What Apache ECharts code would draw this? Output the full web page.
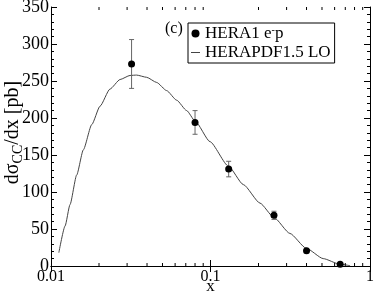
<!DOCTYPE html>
<html>
<head>
<meta charset="utf-8">
<script src="https://cdn.jsdelivr.net/npm/echarts@6/dist/echarts.min.js"></script>
<style>html,body{margin:0;padding:0;background:#fff}#c{width:374px;height:293px}</style>
</head>
<body>
<div id="c"></div>
<script>
// Data points (HERA1 e-p)
var dataX = [0.032, 0.080, 0.13, 0.25, 0.40, 0.65];
var dataY = [273, 194, 131, 68.5, 20.5, 2.5];
var dataErr = [33, 16, 10.5, 5.5, 2, 1];
// Theory curve (HERAPDF1.5 LO)
var curveX = [0.0112, 0.01225, 0.01316, 0.01449, 0.01595, 0.0180, 0.0203, 0.0234, 0.0271, 0.0313, 0.0344, 0.0398, 0.0460, 0.0531, 0.0614, 0.0709, 0.0800, 0.0993, 0.1294, 0.1607, 0.2043, 0.2489, 0.3148, 0.3982, 0.5089, 0.6453, 0.750];
var curveY = [18, 54, 83, 123, 157, 191, 216, 239, 252, 257.5, 258, 255, 248, 237, 224, 210, 196, 168, 135, 110, 85, 66, 44, 24, 10, 2.5, 0.4];
// Axis ticks
var xMajorTicks = [0.01, 0.1, 1];
var xMinorTicks = [0.02, 0.03, 0.04, 0.05, 0.06, 0.07, 0.08, 0.09, 0.2, 0.3, 0.4, 0.5, 0.6, 0.7, 0.8, 0.9];
var yMin = 0, yMax = 350, yInterval = 50;

var FONT = "'Liberation Serif','Times New Roman',serif";
var chart = echarts.init(document.getElementById('c'));

var pts = dataX.map(function (x, i) { return [x, dataY[i]]; });
var errs = dataX.map(function (x, i) { return [x, dataY[i] - dataErr[i], dataY[i] + dataErr[i]]; });
var curve = curveX.map(function (x, i) { return [x, curveY[i]]; });
var minor = xMinorTicks.map(function (x) { return [x]; });

chart.setOption({
  animation: false,
  grid: { left: 51, right: 4, top: 7, bottom: 27, containLabel: false, outerBoundsMode: 'none' },
  xAxis: [{
    type: 'log', min: 0.01, max: 1, logBase: 10,
    name: 'x', nameLocation: 'middle', nameGap: 12, nameMoveOverlap: false,
    nameTextStyle: { fontFamily: FONT, fontSize: 17, color: '#000' },
    axisLine: { lineStyle: { color: '#000', width: 1 } },
    axisTick: { inside: true, length: 6, lineStyle: { color: '#000' } },
    axisLabel: { fontFamily: FONT, fontSize: 16, color: '#000', margin: 3,
      formatter: function (v) { return xMajorTicks.indexOf(+v.toPrecision(3)) >= 0 ? String(+v.toPrecision(3)) : ''; } },
    splitLine: { show: false }
  }, {
    type: 'log', min: 0.01, max: 1, logBase: 10, position: 'top',
    axisLine: { lineStyle: { color: '#000', width: 1 } },
    axisTick: { inside: true, length: 6, lineStyle: { color: '#000' } },
    axisLabel: { show: false }, splitLine: { show: false }
  }],
  yAxis: [{
    type: 'value', min: yMin, max: yMax, interval: yInterval,
    name: '{m|dσ}{s|CC}{m|/dx [pb]}', nameLocation: 'middle', nameGap: 26, nameMoveOverlap: false,
    nameTextStyle: { fontFamily: FONT, fontSize: 20, color: '#000', padding: [0, 0, 0, 8],
      rich: {
        m: { fontFamily: FONT, fontSize: 20, color: '#000', lineHeight: 22, verticalAlign: 'top' },
        s: { fontFamily: FONT, fontSize: 14, color: '#000', lineHeight: 14, verticalAlign: 'bottom' }
      } },
    axisLine: { show: true, lineStyle: { color: '#000', width: 1 } },
    axisTick: { inside: true, length: 6, lineStyle: { color: '#000' } },
    minorTick: { show: true, splitNumber: 5, length: 3, lineStyle: { color: '#000' } },
    axisLabel: { fontFamily: FONT, fontSize: 18, color: '#000', margin: 2 },
    splitLine: { show: false }
  }, {
    type: 'value', min: yMin, max: yMax, interval: yInterval, position: 'right',
    axisLine: { show: true, lineStyle: { color: '#000', width: 1 } },
    axisTick: { inside: true, length: 6, lineStyle: { color: '#000' } },
    minorTick: { show: true, splitNumber: 5, length: 3, lineStyle: { color: '#000' } },
    axisLabel: { show: false }, splitLine: { show: false }
  }],
  legend: {
    orient: 'vertical', left: 188, top: 23,
    padding: [2, 4, 2, 3], itemGap: 2, itemWidth: 9, itemHeight: 8, itemTextGap: 7,
    borderColor: '#000', borderWidth: 1, backgroundColor: '#fff',
    data: [
      { name: 'HERA1', icon: 'circle' },
      { name: 'HERAPDF1.5 LO', icon: 'path://M0,0h0.01v0.01h-0.01z M0,3.5h10v1h-10z M9.99,7.99h0.01v0.01h-0.01z' }
    ],
    textStyle: { fontFamily: FONT, fontSize: 17, color: '#000',
      rich: {
        m: { fontFamily: FONT, fontSize: 17, color: '#000', lineHeight: 17, verticalAlign: 'bottom' },
        u: { fontFamily: FONT, fontSize: 10, color: '#000', lineHeight: 10, verticalAlign: 'top' }
      } },
    formatter: function (n) { return n === 'HERA1' ? '{m|HERA1 e}{u|-}{m|p}' : '{m|' + n + '}'; }
  },
  graphic: [{ type: 'text', left: 165, top: 21, style: { text: '(c)', font: '16px ' + FONT, fill: '#000' } }],
  series: [{
    name: 'HERAPDF1.5 LO', type: 'line', data: curve, symbol: 'none', smooth: 0.2, smoothMonotone: 'x',
    lineStyle: { color: '#444', width: 1 }, itemStyle: { color: '#444' }, z: 2
  }, {
    name: 'errors', type: 'custom', data: errs, z: 3,
    renderItem: function (params, api) {
      var x = api.value(0);
      var lo = api.coord([x, api.value(1)]);
      var hi = api.coord([x, api.value(2)]);
      var w = 2.5;
      var st = { stroke: '#666', lineWidth: 1 };
      return { type: 'group', children: [
        { type: 'line', shape: { x1: lo[0], y1: lo[1], x2: hi[0], y2: hi[1] }, style: st },
        { type: 'line', shape: { x1: lo[0] - w, y1: lo[1], x2: lo[0] + w, y2: lo[1] }, style: st },
        { type: 'line', shape: { x1: hi[0] - w, y1: hi[1], x2: hi[0] + w, y2: hi[1] }, style: st }
      ] };
    }
  }, {
    name: 'HERA1', type: 'scatter', data: pts, symbol: 'circle', symbolSize: 7,
    itemStyle: { color: '#000', opacity: 1 }, z: 4
  }, {
    name: 'xminor', type: 'custom', data: minor, z: 5, silent: true,
    renderItem: function (params, api) {
      var x = api.value(0);
      var b = api.coord([x, yMin]);
      var t = api.coord([x, yMax]);
      var st = { stroke: '#000', lineWidth: 1 };
      return { type: 'group', children: [
        { type: 'line', shape: { x1: b[0], y1: b[1], x2: b[0], y2: b[1] - 3 }, style: st },
        { type: 'line', shape: { x1: t[0], y1: t[1], x2: t[0], y2: t[1] + 3 }, style: st }
      ] };
    }
  }]
});
</script>
</body>
</html>
